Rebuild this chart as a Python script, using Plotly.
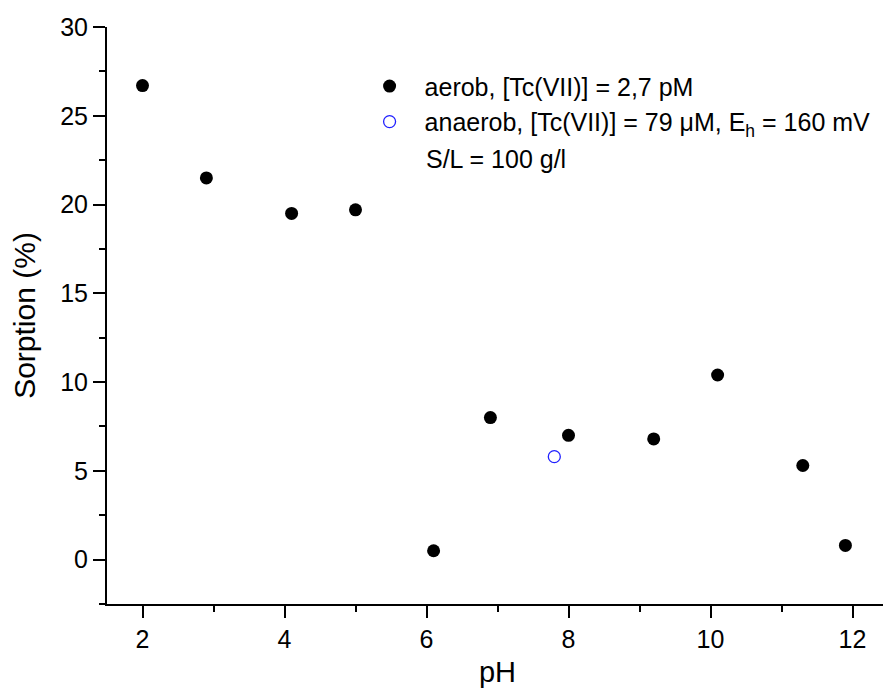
import plotly.graph_objects as go

aerob_ph = [2.0, 2.9, 4.1, 5.0, 6.1, 6.9, 8.0, 9.2, 10.1, 11.3, 11.9]
aerob_sorp = [26.7, 21.5, 19.5, 19.7, 0.5, 8.0, 7.0, 6.8, 10.4, 5.3, 0.8]
anaerob_ph = [7.8]
anaerob_sorp = [5.8]

FONT = "Liberation Sans, Arial, sans-serif"

fig = go.Figure()
fig.add_trace(go.Scatter(
    x=aerob_ph, y=aerob_sorp, mode="markers",
    name="aerob, [Tc(VII)] = 2,7 pM",
    marker=dict(symbol="circle", size=13, color="black", line=dict(width=0)),
))
fig.add_trace(go.Scatter(
    x=anaerob_ph, y=anaerob_sorp, mode="markers",
    name="anaerob, [Tc(VII)] = 79 μM, E<sub>h</sub> = 160 mV",
    marker=dict(symbol="circle-open", size=12, color="#2020ff", line=dict(width=1.3, color="#2020ff")),
))

axis_common = dict(
    showline=True, linecolor="black", linewidth=2,
    ticks="outside", ticklen=12, tickwidth=2, tickcolor="black",
    showgrid=False, zeroline=False, mirror=False,
    tickfont=dict(family=FONT, size=25, color="black"),
)

fig.update_xaxes(
    range=[1.5, 12.5], dtick=2, tick0=2,
    minor=dict(ticks="outside", ticklen=6, tickwidth=2, tickcolor="black", dtick=1, tick0=1),
    title=dict(text="pH", font=dict(family=FONT, size=29, color="black"), standoff=10),
    **axis_common,
)
fig.update_yaxes(
    range=[-2.5, 30], dtick=5, tick0=0,
    minor=dict(ticks="outside", ticklen=6, tickwidth=2, tickcolor="black", dtick=2.5, tick0=0),
    title=dict(text="Sorption (%)", font=dict(family=FONT, size=30, color="black"), standoff=18),
    **axis_common,
)

fig.add_annotation(
    text="S/L = 100 g/l", xref="paper", yref="paper",
    x=0.406, y=0.772, xanchor="left", yanchor="middle", showarrow=False,
    font=dict(family=FONT, size=25, color="black"),
)

# page body has an 8px margin: compensate so the plot area lands where the reference has it
fig.update_layout(
    width=883, height=681,
    margin=dict(l=99, r=3, t=19, b=85),
    plot_bgcolor="white", paper_bgcolor="white",
    showlegend=True,
    legend=dict(
        x=0.317, y=0.937, xanchor="left", yanchor="top",
        bgcolor="rgba(0,0,0,0)", borderwidth=0,
        font=dict(family=FONT, size=25, color="black"),
        tracegroupgap=0, itemwidth=60,
    ),
    font=dict(family=FONT, color="black"),
)

fig.write_html("out.html")
